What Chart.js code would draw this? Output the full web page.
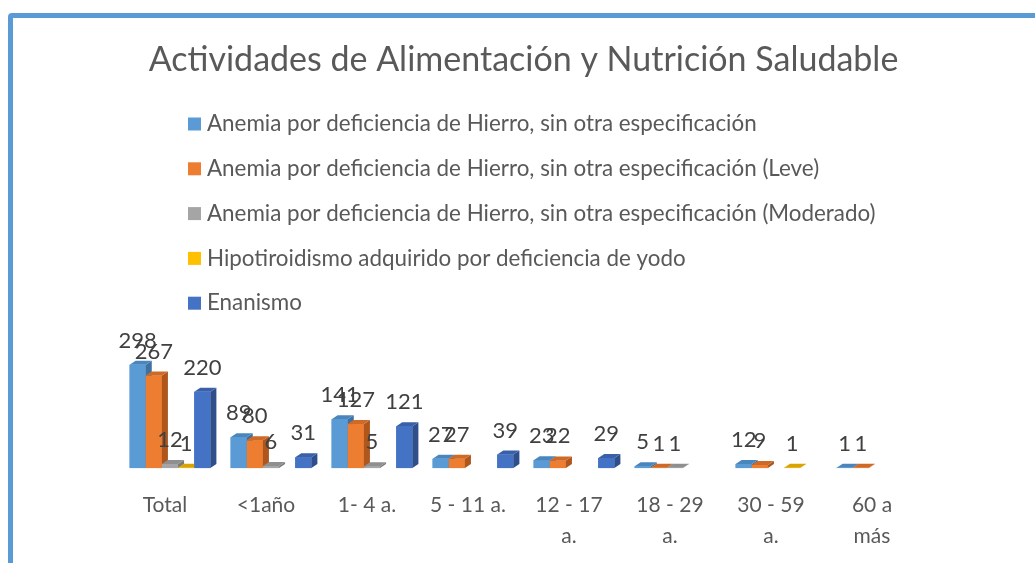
<!DOCTYPE html>
<html lang="es">
<head>
  <meta charset="UTF-8">
  <title>Actividades de Alimentación y Nutrición Saludable</title>
  <script src="https://cdn.jsdelivr.net/npm/chart.js@4.4.1/dist/chart.umd.min.js"></script>
  <style>
    body {
      margin: 0;
      background: #fff;
      overflow: hidden;
    }
    .frame {
      position: absolute;
      left: 8px;
      top: 13px;
      width: 1100px;
      height: 650px;
      border: 5px solid #5B9BD5;
      border-radius: 4px;
    }
    #chart {
      position: absolute;
      left: 0;
      top: 0;
    }
  </style>
</head>
<body>
  <div class="frame"></div>
  <canvas id="chart" width="1035" height="563"></canvas>
  <script>
    const categories = ['Total', '<1año', '1- 4 a.', '5 - 11 a.', ['12 - 17', 'a.'], ['18 - 29', 'a.'], ['30 - 59', 'a.'], ['60 a', 'más']];
    const seriesNames = [
      'Anemia por deficiencia de Hierro, sin otra especificación',
      'Anemia por deficiencia de Hierro, sin otra especificación (Leve)',
      'Anemia por deficiencia de Hierro, sin otra especificación (Moderado)',
      'Hipotiroidismo adquirido por deficiencia de yodo',
      'Enanismo'
    ];
    const hierro = [298, 89, 141, 27, 23, 5, 12, 1];
    const leve = [267, 80, 127, 27, 22, 1, 9, 1];
    const moderado = [12, 6, 5, null, null, 1, null, null];
    const yodo = [1, null, null, null, null, null, 1, null];
    const enanismo = [220, 31, 121, 39, 29, null, null, null];

    const fronts = ['#5B9BD5', '#ED7D31', '#A5A5A5', '#FFC000', '#4472C4'];
    const tops = ['#4A86BE', '#CF6A26', '#8F8F8F', '#D9A300', '#3960A8'];
    const sides = ['#3E70A0', '#AE561C', '#7A7A7A', '#B58A00', '#2E4F8C'];
    const fontFamily = 'Lato, "Open Sans", sans-serif';
    const dx = 6, dy = -4;

    // fake 3D faces, bars redrawn first to last so later series cover earlier sides
    const barDepth = {
      id: 'barDepth',
      afterDatasetsDraw(chart) {
        const ctx = chart.ctx;
        ctx.save();
        chart.data.datasets.forEach((ds, i) => {
          chart.getDatasetMeta(i).data.forEach((bar, j) => {
            if (ds.data[j] == null) return;
            const p = bar.getProps(['x', 'y', 'base', 'width'], true);
            const l = p.x - p.width / 2, r = p.x + p.width / 2;
            ctx.fillStyle = fronts[i];
            ctx.fillRect(l, p.y, p.width, p.base - p.y);
            ctx.fillStyle = sides[i];
            ctx.beginPath();
            ctx.moveTo(r, p.y);
            ctx.lineTo(r + dx, p.y + dy);
            ctx.lineTo(r + dx, p.base + dy);
            ctx.lineTo(r, p.base);
            ctx.closePath();
            ctx.fill();
            ctx.fillStyle = tops[i];
            ctx.beginPath();
            ctx.moveTo(l, p.y);
            ctx.lineTo(l + dx, p.y + dy);
            ctx.lineTo(r + dx, p.y + dy);
            ctx.lineTo(r, p.y);
            ctx.closePath();
            ctx.fill();
          });
        });
        // value labels
        ctx.font = '22px ' + fontFamily;
        ctx.fillStyle = '#404040';
        ctx.textAlign = 'center';
        ctx.textBaseline = 'alphabetic';
        chart.data.datasets.forEach((ds, i) => {
          chart.getDatasetMeta(i).data.forEach((bar, j) => {
            if (ds.data[j] == null) return;
            ctx.fillText(String(ds.data[j]), bar.x, bar.y - 17);
          });
        });
        ctx.restore();
      }
    };

    // legend as a left aligned column, one series per row
    const columnLegend = {
      id: 'columnLegend',
      afterDraw(chart) {
        const ctx = chart.ctx;
        ctx.save();
        ctx.font = '22.4px ' + fontFamily;
        ctx.textBaseline = 'middle';
        ctx.textAlign = 'left';
        chart.data.datasets.forEach((ds, i) => {
          const y = 124 + i * 44.8;
          ctx.fillStyle = ds.backgroundColor;
          ctx.fillRect(188, y - 6.5, 13, 13);
          ctx.fillStyle = '#595959';
          ctx.fillText(ds.label, 207, y);
        });
        ctx.restore();
      }
    };

    const seriesData = [hierro, leve, moderado, yodo, enanismo];

    new Chart(document.getElementById('chart'), {
      type: 'bar',
      data: {
        labels: categories,
        datasets: seriesData.map((d, i) => ({
          label: seriesNames[i],
          data: d,
          backgroundColor: fronts[i],
          categoryPercentage: 0.8,
          barPercentage: 1
        }))
      },
      options: {
        responsive: false,
        animation: false,
        layout: {
          padding: { left: 119.5, right: 107.5, top: 0, bottom: -10 }
        },
        plugins: {
          legend: { display: false },
          tooltip: { enabled: false },
          title: {
            display: true,
            text: 'Actividades de Alimentación y Nutrición Saludable',
            color: '#595959',
            font: { family: fontFamily, size: 34, weight: 'normal' },
            padding: { top: 39.6, bottom: 245.6 }
          }
        },
        scales: {
          x: {
            grid: { display: false, drawTicks: false },
            border: { display: false },
            ticks: {
              color: '#595959',
              font: { family: fontFamily, size: 21, lineHeight: 1.45 },
              padding: 22,
              maxRotation: 0,
              autoSkip: false,
              labelOffset: -5
            }
          },
          y: {
            display: false,
            min: 0,
            max: 410
          }
        }
      },
      plugins: [barDepth, columnLegend]
    });
  </script>
</body>
</html>
